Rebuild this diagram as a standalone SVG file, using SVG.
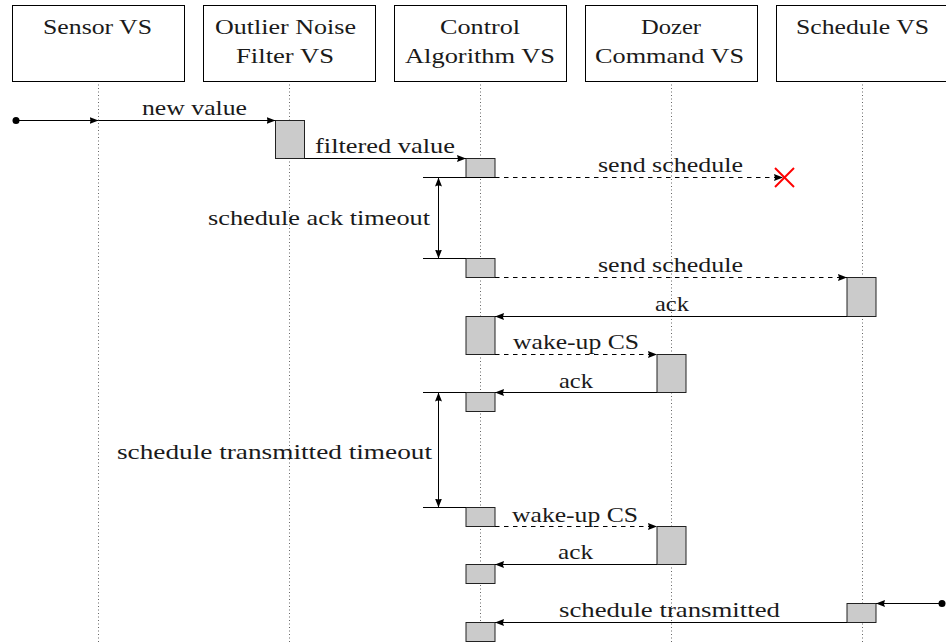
<svg xmlns="http://www.w3.org/2000/svg" width="946" height="644" viewBox="0 0 946 644" font-family="Liberation Serif, Times New Roman, DejaVu Serif, serif">
  <style>
    text { font-size: 21px; fill: #1a1a1a; }
    .head { fill: #fff; stroke: #000; stroke-width: 1; }
    .life { stroke: #666; stroke-width: 1; stroke-dasharray: 1 2.5; fill: none; }
    .act { fill: #cbcbcb; stroke: #222; stroke-width: 1; }
    .msg { stroke: #000; stroke-width: 1; fill: none; marker-end: url(#tip); }
    .async { stroke: #000; stroke-width: 1; fill: none; stroke-dasharray: 4.5 4.5; marker-end: url(#tip); }
    .rule { stroke: #000; stroke-width: 1; fill: none; }
    .span { stroke: #000; stroke-width: 1; fill: none; marker-start: url(#tipr); marker-end: url(#tip); }
    .lost { stroke: #ff0000; stroke-width: 2; fill: none; }
  </style>
  <defs>
    <marker id="tip" viewBox="0 0 9 7" refX="9" refY="3.5" markerWidth="9" markerHeight="7" markerUnits="userSpaceOnUse" orient="auto">
      <path d="M0,0 L9,3.5 L0,7 Q1.8,3.5 0,0 Z" fill="#000"/>
    </marker>
    <marker id="tipr" viewBox="0 0 9 7" refX="9" refY="3.5" markerWidth="9" markerHeight="7" markerUnits="userSpaceOnUse" orient="auto-start-reverse">
      <path d="M0,0 L9,3.5 L0,7 Q1.8,3.5 0,0 Z" fill="#000"/>
    </marker>
  </defs>

  <rect width="946" height="644" fill="#fff"/>

  <!-- lifelines -->
  <g id="lifelines">
    <line class="life" x1="98.5" y1="81" x2="98.5" y2="644"/>
    <line class="life" x1="289.5" y1="81" x2="289.5" y2="644"/>
    <line class="life" x1="480.5" y1="81" x2="480.5" y2="644"/>
    <line class="life" x1="671.5" y1="81" x2="671.5" y2="644"/>
    <line class="life" x1="862.5" y1="81" x2="862.5" y2="644"/>
  </g>

  <!-- participants -->
  <g id="sensor">
    <rect class="head" x="12.5" y="5.5" width="172" height="76"/>
    <text x="43" y="34" textLength="109" lengthAdjust="spacingAndGlyphs">Sensor VS</text>
  </g>
  <g id="filter">
    <rect class="head" x="203.5" y="5.5" width="172" height="76"/>
    <text x="215" y="34" textLength="141" lengthAdjust="spacingAndGlyphs">Outlier Noise</text>
    <text x="236" y="63" textLength="98" lengthAdjust="spacingAndGlyphs">Filter VS</text>
  </g>
  <g id="control">
    <rect class="head" x="394.5" y="5.5" width="172" height="76"/>
    <text x="440" y="34" textLength="80" lengthAdjust="spacingAndGlyphs">Control</text>
    <text x="405" y="63" textLength="150" lengthAdjust="spacingAndGlyphs">Algorithm VS</text>
  </g>
  <g id="dozer">
    <rect class="head" x="585.5" y="5.5" width="172" height="76"/>
    <text x="641" y="34" textLength="60" lengthAdjust="spacingAndGlyphs">Dozer</text>
    <text x="595" y="63" textLength="149" lengthAdjust="spacingAndGlyphs">Command VS</text>
  </g>
  <g id="schedule">
    <rect class="head" x="776.5" y="5.5" width="172" height="76"/>
    <text x="796" y="34" textLength="133" lengthAdjust="spacingAndGlyphs">Schedule VS</text>
  </g>

  <!-- activation bars -->
  <g id="activations">
    <rect class="act" x="275.5" y="120.5" width="29" height="38"/>
    <rect class="act" x="466" y="158.5" width="29" height="19"/>
    <rect class="act" x="466" y="258.5" width="29" height="19"/>
    <rect class="act" x="847" y="277.5" width="29" height="39"/>
    <rect class="act" x="466" y="316.5" width="29" height="38"/>
    <rect class="act" x="657" y="354.5" width="29" height="38"/>
    <rect class="act" x="466" y="392.5" width="29" height="19"/>
    <rect class="act" x="466" y="507.5" width="29" height="19"/>
    <rect class="act" x="657" y="526.5" width="29" height="38"/>
    <rect class="act" x="466" y="564.5" width="29" height="19"/>
    <rect class="act" x="847" y="603.5" width="29" height="19"/>
    <rect class="act" x="466" y="622.5" width="29" height="19"/>
  </g>

  <!-- messages -->
  <g id="connectors">
    <circle cx="16" cy="120.5" r="3.5" fill="#000"/>
    <line class="msg" x1="16" y1="120.5" x2="98.5" y2="120.5"/>
    <line class="msg" x1="98.5" y1="120.5" x2="275.5" y2="120.5"/>
    <line class="msg" x1="304.5" y1="158.5" x2="466" y2="158.5"/>

    <line class="rule" x1="423" y1="177.5" x2="495" y2="177.5"/>
    <line class="async" x1="495" y1="177.5" x2="783" y2="177.5"/>
    <line class="span" x1="438.5" y1="177.5" x2="438.5" y2="258.5"/>
    <line class="rule" x1="423" y1="258.5" x2="466" y2="258.5"/>

    <line class="async" x1="495" y1="277.5" x2="847" y2="277.5"/>
    <line class="msg" x1="847" y1="316.5" x2="495" y2="316.5"/>
    <line class="async" x1="495" y1="354.5" x2="657" y2="354.5"/>
    <line class="msg" x1="657" y1="392.5" x2="495" y2="392.5"/>

    <line class="rule" x1="423" y1="392.5" x2="466" y2="392.5"/>
    <line class="span" x1="438.5" y1="392.5" x2="438.5" y2="507.5"/>
    <line class="rule" x1="423" y1="507.5" x2="466" y2="507.5"/>

    <line class="async" x1="495" y1="526.5" x2="657" y2="526.5"/>
    <line class="msg" x1="657" y1="564.5" x2="495" y2="564.5"/>

    <circle cx="942" cy="603.5" r="3.5" fill="#000"/>
    <line class="msg" x1="942" y1="603.5" x2="876" y2="603.5"/>
    <line class="msg" x1="847" y1="622.5" x2="495" y2="622.5"/>

    <g id="lost-message">
      <line class="lost" x1="775" y1="168" x2="794" y2="187"/>
      <line class="lost" x1="775" y1="187" x2="794" y2="168"/>
    </g>
  </g>

  <!-- message labels -->
  <g id="labels">
    <text x="142" y="115" textLength="105" lengthAdjust="spacingAndGlyphs">new value</text>
    <text x="315" y="153" textLength="140" lengthAdjust="spacingAndGlyphs">filtered value</text>
    <text x="598" y="172" textLength="145" lengthAdjust="spacingAndGlyphs">send schedule</text>
    <text x="208" y="225" textLength="222" lengthAdjust="spacingAndGlyphs">schedule ack timeout</text>
    <text x="598" y="272" textLength="145" lengthAdjust="spacingAndGlyphs">send schedule</text>
    <text x="655" y="311" textLength="34" lengthAdjust="spacingAndGlyphs">ack</text>
    <text x="513" y="349" textLength="126" lengthAdjust="spacingAndGlyphs">wake-up CS</text>
    <text x="559" y="388" textLength="34" lengthAdjust="spacingAndGlyphs">ack</text>
    <text x="117" y="459" textLength="315" lengthAdjust="spacingAndGlyphs">schedule transmitted timeout</text>
    <text x="512" y="522" textLength="126" lengthAdjust="spacingAndGlyphs">wake-up CS</text>
    <text x="558" y="559" textLength="35" lengthAdjust="spacingAndGlyphs">ack</text>
    <text x="559" y="617" textLength="221" lengthAdjust="spacingAndGlyphs">schedule transmitted</text>
  </g>
</svg>
